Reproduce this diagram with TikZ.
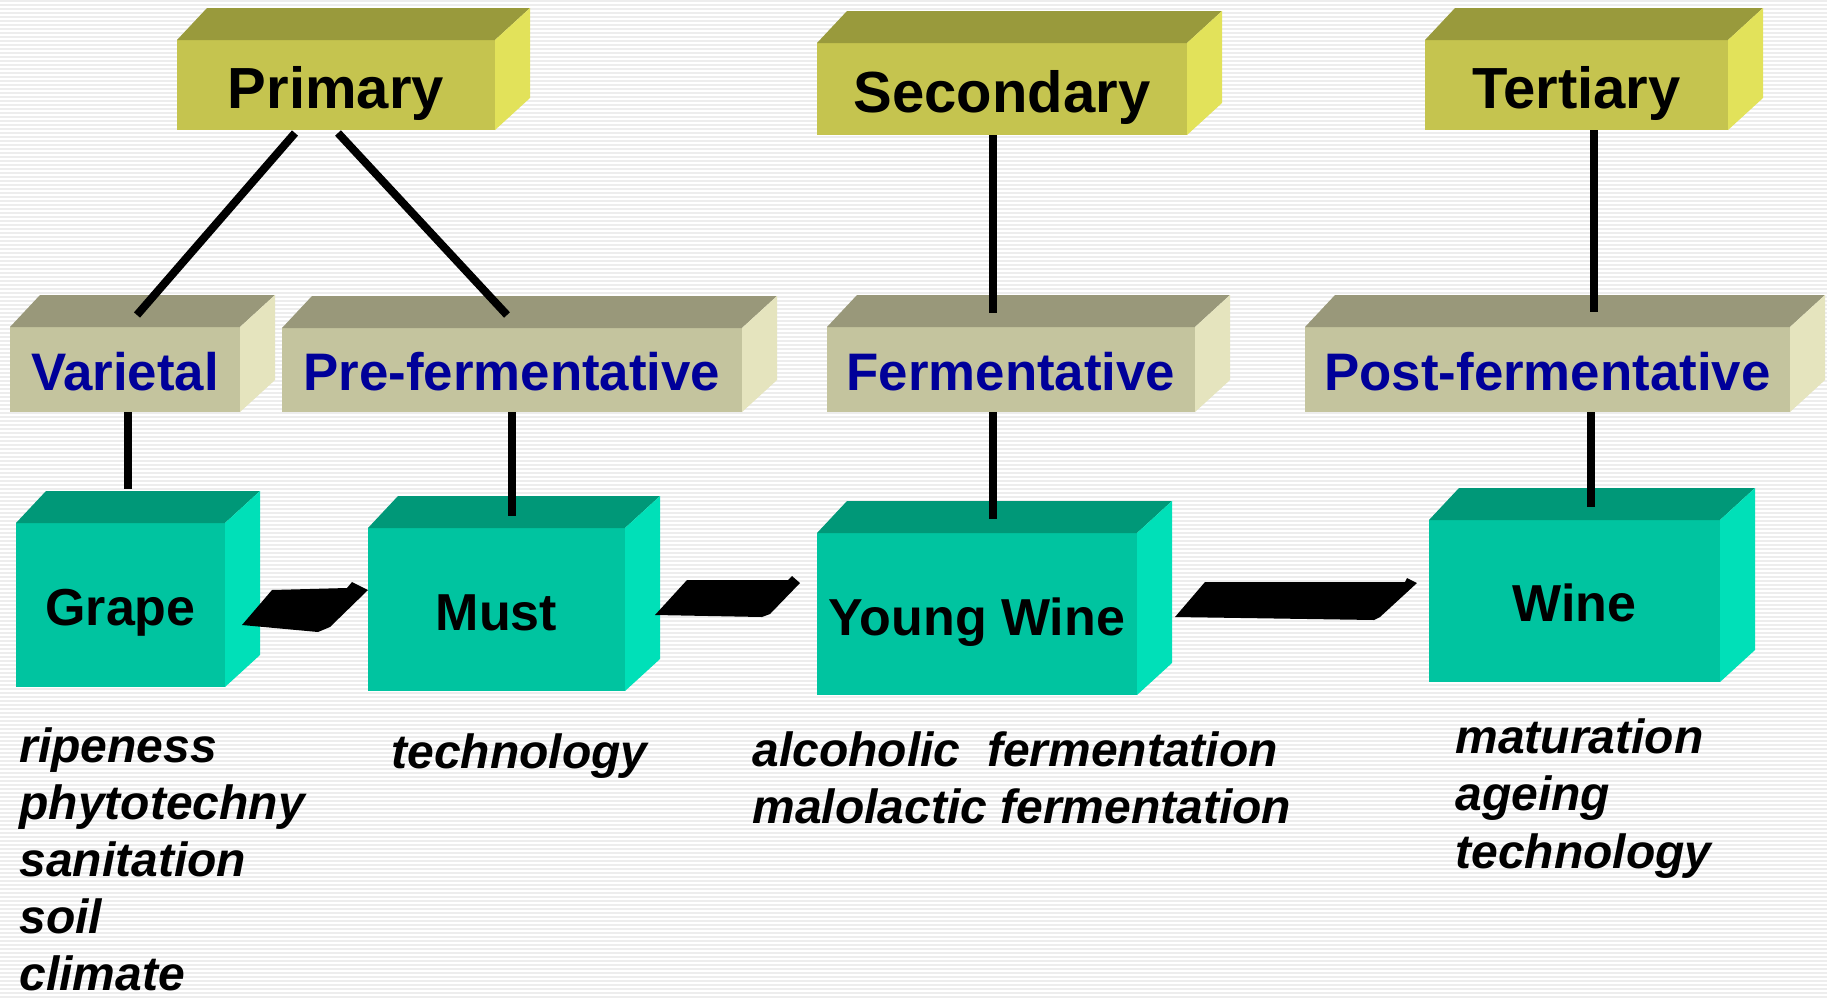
\documentclass[tikz,border=0pt]{standalone}
\usepackage{fontspec}
\setmainfont{Liberation Sans}
\definecolor{yelF}{HTML}{C5C44F}
\definecolor{yelT}{HTML}{999A3C}
\definecolor{yelS}{HTML}{E2E25A}
\definecolor{khaF}{HTML}{C4C49E}
\definecolor{khaT}{HTML}{99987A}
\definecolor{khaS}{HTML}{E5E4BE}
\definecolor{teaF}{HTML}{00C4A0}
\definecolor{teaT}{HTML}{009878}
\definecolor{teaS}{HTML}{00E0B8}
\definecolor{navy}{HTML}{000099}
\definecolor{stripe}{HTML}{EDEDED}
\tikzset{
  boxbase/.style={inner sep=0pt, outer sep=0pt, align=center},
  yelface/.style={boxbase, fill=yelF, text=black, font=\fontsize{29}{34}\selectfont\bfseries},
  khaface/.style={boxbase, fill=khaF, text=navy, font=\fontsize{26.4}{31}\selectfont\bfseries},
  teaface/.style={boxbase, fill=teaF, text=black, font=\fontsize{26}{31}\selectfont\bfseries},
  conn/.style={line width=4pt, black},
  flatarrow/.style={fill=black},
  lab/.style={anchor=base west, inner sep=0pt, font=\fontsize{24}{28}\selectfont\bfseries\itshape},
  stripeline/.style={line width=0.7pt, stripe}
}
% [text drop], name, x1, y1, x2, y2, family, text
\newcommand\cubebox[8][0pt]{%
  \node[#7face, minimum width={(#5-#3)*0.5pt}, minimum height={(#6-#4)*0.5pt}] (#2) at ({(#3+#5)/2},{(#4+#6)/2}) {\raisebox{-#1}[\height][\depth]{#8}};
  \fill[#7T] (#2.north west) -- ++(30,-32) -- ([shift={(35,-32)}]#2.north east) -- (#2.north east) -- cycle;
  \fill[#7S] (#2.north east) -- ++(35,-32) -- ([shift={(35,-32)}]#2.south east) -- (#2.south east) -- cycle;
}
\begin{document}
\begin{tikzpicture}[x=0.5pt, y=-0.5pt]
\useasboundingbox (0,0) rectangle (1827,997);
\fill[white] (0,0) rectangle (1827,997);
\foreach \i in {1,5,...,997} \draw[stripeline] (0,\i) -- (1827,\i);

% top row
\cubebox[4pt]{primary}{177}{40}{495}{130}{yel}{Primary}
\cubebox[4pt]{secondary}{817}{43}{1187}{135}{yel}{Secondary}
\cubebox[4pt]{tertiary}{1425}{40}{1728}{130}{yel}{Tertiary}
% middle row
\cubebox[1pt]{varietal}{10}{327}{240}{412}{kha}{Varietal}
\cubebox[1pt]{prefer}{282}{328}{742}{412}{kha}{Pre-fermentative}
\cubebox[1pt]{ferm}{827}{327}{1195}{412}{kha}{Fermentative}
\cubebox[1pt]{post}{1305}{327}{1790}{412}{kha}{Post-fermentative}
% bottom row
\cubebox[4pt]{grape}{16}{523}{225}{687}{tea}{Grape}
\cubebox[1.5pt]{must}{368}{528}{625}{691}{tea}{Must}
\cubebox[4pt]{yw}{817}{533}{1137}{695}{tea}{Young Wine}
\cubebox[1pt]{wine}{1429}{520}{1720}{682}{tea}{Wine}

% connectors
\draw[conn] ([shift={(-41,3)}]primary.south) -- ([shift={(12,-12)}]varietal.north);
\draw[conn] ([shift={(2,3)}]primary.south) -- ([shift={(-5,-13)}]prefer.north);
\draw[conn] ([shift={(-9,0)}]secondary.south) -- ([shift={(-18,-14)}]ferm.north);
\draw[conn] ([shift={(17.5,0)}]tertiary.south) -- ([shift={(46.5,-15)}]post.north);
\draw[conn] ([shift={(3,0)}]varietal.south) -- ([shift={(7.5,-34)}]grape.north);
\draw[conn] ([shift={(0,0)}]prefer.south) -- ([shift={(15.5,-12)}]must.north);
\draw[conn] ([shift={(-18,0)}]ferm.south) -- ([shift={(16,-14)}]yw.north);
\draw[conn] ([shift={(43.5,0)}]post.south) -- ([shift={(16.5,-13)}]wine.north);

% flat arrows
\fill[flatarrow] ([shift={(17,20)}]grape.east) -- ([shift={(47,-15)}]grape.east) -- ([shift={(122,-17)}]grape.east) -- ([shift={(127,-23)}]grape.east) -- ([shift={(0,-19.5)}]must.west) -- ([shift={(-38,17.5)}]must.west) -- ([shift={(-50,22.5)}]must.west) -- cycle;
\fill[flatarrow] ([shift={(30,5.5)}]must.east) -- ([shift={(62,-29.5)}]must.east) -- ([shift={(163,-29.5)}]must.east) -- ([shift={(167,-33.5)}]must.east) -- ([shift={(-17,-31)}]yw.west) -- ([shift={(-47,0)}]yw.west) -- ([shift={(-55,3)}]yw.west) -- cycle;
\fill[flatarrow] ([shift={(38,3)}]yw.east) -- ([shift={(68,-32)}]yw.east) -- ([shift={(268,-32)}]yw.east) -- ([shift={(270,-36)}]yw.east) -- ([shift={(-12,-18)}]wine.west) -- ([shift={(-49,16)}]wine.west) -- ([shift={(-55,19)}]wine.west) -- cycle;

% labels
\node[lab] (g1) at (19,762) {ripeness};
\node[lab] (g2) at (19,819) {phytotechny};
\node[lab] (g3) at (19,876) {sanitation};
\node[lab] (g4) at (19,933) {soil};
\node[lab] (g5) at (19,990) {climate};
\node[lab] (m1) at (391,768) {technology};
\node[lab] (y1) at (752,766) {alcoholic\ \ fermentation};
\node[lab] (y2) at (752,823) {malolactic fermentation};
\node[lab] (w1) at (1455,753) {maturation};
\node[lab] (w2) at (1455,810) {ageing};
\node[lab] (w3) at (1455,868) {technology};
\end{tikzpicture}
\end{document}
